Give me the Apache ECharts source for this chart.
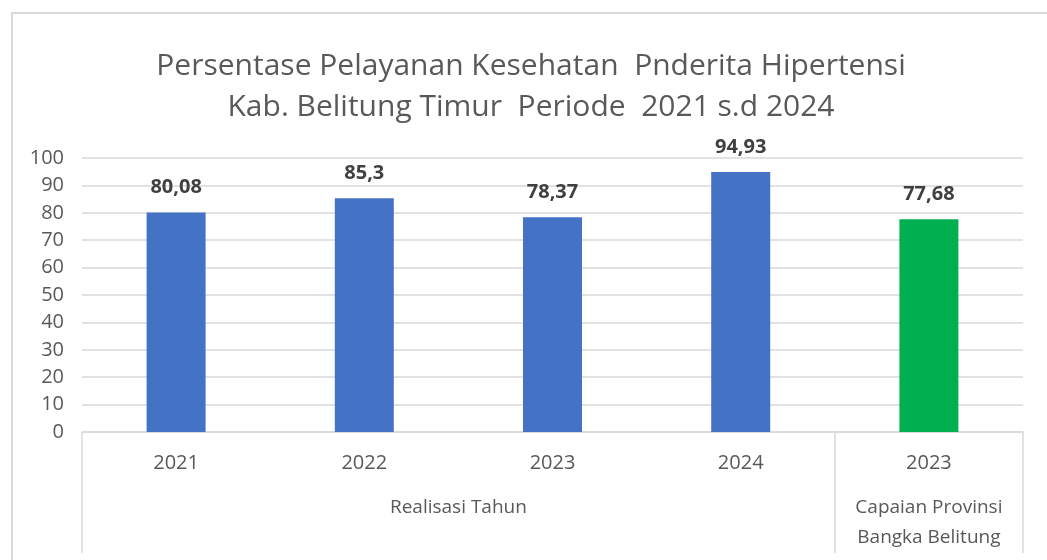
<!DOCTYPE html>
<html>
<head>
<meta charset="utf-8">
<script src="https://cdn.jsdelivr.net/npm/echarts@6/dist/echarts.min.js"></script>
<style>
  html, body { margin: 0; padding: 0; background: #fff; overflow: hidden; }
  #frame { position: absolute; left: 11px; top: 12px; width: 1100px; height: 600px; border: 2px solid #d9d9d9; }
  #chart { position: absolute; left: 0; top: 0; width: 1047px; height: 560px; }
</style>
</head>
<body>
<div id="frame"></div>
<div id="chart"></div>
<script>
const categories = ['2021', '2022', '2023', '2024', '2023'];
const values = [80.08, 85.3, 78.37, 94.93, 77.68];
const barColors = ['#4472C4', '#4472C4', '#4472C4', '#4472C4', '#00B050'];
const groupLabels = ['Realisasi Tahun', 'Capaian Provinsi\nBangka Belitung'];
const groupSpans = [4, 1];
const titleLines = ['Persentase Pelayanan Kesehatan  Pnderita Hipertensi', 'Kab. Belitung Timur  Periode  2021 s.d 2024'];

// Build half-band slots for group axis (boundaryGap false)
const slotCount = categories.length * 2 + 1;
const groupSlots = new Array(slotCount).fill('');
const boundaries = [0];
let acc = 0;
groupSpans.forEach((s, i) => {
  groupSlots[acc * 2 + s] = groupLabels[i];
  acc += s;
  boundaries.push(acc * 2);
});

const FONT = 'Open Sans';
const chart = echarts.init(document.getElementById('chart'), null, { renderer: 'canvas' });
chart.setOption({
  backgroundColor: 'transparent',
  animation: false,
  title: {
    text: titleLines.join('\n'),
    left: 526,
    top: 41,
    textAlign: 'center',
    textStyle: { fontFamily: FONT, fontSize: 30, fontWeight: 'normal', color: '#595959', lineHeight: 41 }
  },
  grid: { left: 82, right: 24, top: 158, bottom: 128, containLabel: false },
  xAxis: [
    {
      type: 'category',
      data: categories,
      position: 'bottom',
      axisLine: { show: true, lineStyle: { color: '#d9d9d9', width: 1.5 } },
      axisTick: { show: false },
      axisLabel: { interval: 0, margin: 21, fontFamily: FONT, fontSize: 20, color: '#595959' }
    },
    {
      type: 'category',
      data: groupSlots,
      position: 'bottom',
      boundaryGap: false,
      axisLine: { show: false },
      axisTick: {
        show: true,
        length: 121,
        interval: function (index) { return boundaries.indexOf(index) >= 0; },
        lineStyle: { color: '#d9d9d9', width: 1.5 }
      },
      axisLabel: { interval: 0, margin: 61, verticalAlign: 'top', lineHeight: 30, fontFamily: FONT, fontSize: 19, color: '#595959' },
      splitLine: { show: false }
    }
  ],
  yAxis: {
    type: 'value',
    min: 0,
    max: 100,
    interval: 10,
    axisLine: { show: false },
    axisTick: { show: false },
    axisLabel: { margin: 18, fontFamily: FONT, fontSize: 20, color: '#595959' },
    splitLine: { lineStyle: { color: '#d9d9d9', width: 1.5 } }
  },
  series: [{
    type: 'bar',
    xAxisIndex: 0,
    barWidth: 59,
    data: values.map((v, i) => ({ value: v, itemStyle: { color: barColors[i] } })),
    label: {
      show: true,
      position: 'top',
      distance: 15,
      fontFamily: FONT,
      fontSize: 20,
      fontWeight: 'bold',
      color: '#404040',
      formatter: p => String(p.value).replace('.', ',')
    }
  }]
});
</script>
</body>
</html>
